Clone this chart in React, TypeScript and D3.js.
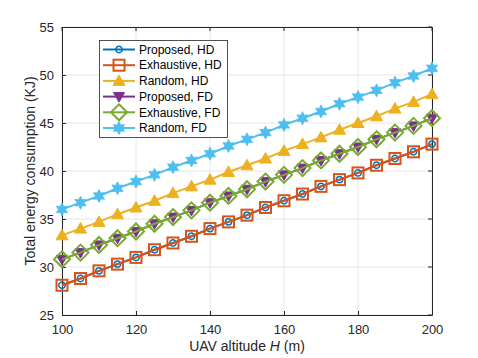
import * as d3 from "d3";
import React, { useEffect, useRef } from "react";

const altitudes = [100, 105, 110, 115, 120, 125, 130, 135, 140, 145, 150, 155, 160, 165, 170, 175, 180, 185, 190, 195, 200];
const proposedHD = [28.1, 28.8, 29.6, 30.3, 31.0, 31.8, 32.5, 33.2, 34.0, 34.7, 35.4, 36.2, 36.9, 37.6, 38.4, 39.1, 39.8, 40.6, 41.3, 42.0, 42.8];
const exhaustiveHD = [28.1, 28.8, 29.6, 30.3, 31.0, 31.8, 32.5, 33.2, 34.0, 34.7, 35.4, 36.2, 36.9, 37.6, 38.4, 39.1, 39.8, 40.6, 41.3, 42.0, 42.8];
const randomHD = [33.3, 34.0, 34.7, 35.5, 36.2, 36.9, 37.7, 38.4, 39.1, 39.9, 40.6, 41.3, 42.1, 42.8, 43.5, 44.3, 45.0, 45.7, 46.5, 47.2, 48.0];
const proposedFD = [30.8, 31.5, 32.3, 33.0, 33.7, 34.5, 35.2, 35.9, 36.7, 37.4, 38.1, 38.9, 39.6, 40.3, 41.1, 41.8, 42.5, 43.3, 44.0, 44.7, 45.5];
const exhaustiveFD = [30.8, 31.5, 32.3, 33.0, 33.7, 34.5, 35.2, 35.9, 36.7, 37.4, 38.1, 38.9, 39.6, 40.3, 41.1, 41.8, 42.5, 43.3, 44.0, 44.7, 45.5];
const randomFD = [36.0, 36.7, 37.4, 38.2, 38.9, 39.6, 40.4, 41.1, 41.8, 42.6, 43.3, 44.0, 44.8, 45.5, 46.2, 47.0, 47.7, 48.4, 49.2, 49.9, 50.7];
const xTicks = [100, 120, 140, 160, 180, 200];
const yTicks = [25, 30, 35, 40, 45, 50, 55];

const series = [
  { name: "Proposed, HD", values: proposedHD, color: "#0072BD", marker: "circle" },
  { name: "Exhaustive, HD", values: exhaustiveHD, color: "#D95319", marker: "square" },
  { name: "Random, HD", values: randomHD, color: "#EDB120", marker: "triangle" },
  { name: "Proposed, FD", values: proposedFD, color: "#7E2F8E", marker: "triangleDown" },
  { name: "Exhaustive, FD", values: exhaustiveFD, color: "#77AC30", marker: "diamond" },
  { name: "Random, FD", values: randomFD, color: "#4DBEEE", marker: "hexagram" },
];

function drawMarker(g, type, color) {
  if (type === "circle") {
    g.append("circle").attr("r", 3.2).attr("fill", "none").attr("stroke", color).attr("stroke-width", 1.5);
  } else if (type === "square") {
    g.append("rect").attr("x", -5.5).attr("y", -5.5).attr("width", 11).attr("height", 11)
      .attr("fill", "none").attr("stroke", color).attr("stroke-width", 2);
  } else if (type === "triangle") {
    g.append("path").attr("d", "M0,-6L6,4.5L-6,4.5Z").attr("fill", color).attr("stroke", color).attr("stroke-width", 1);
  } else if (type === "triangleDown") {
    g.append("path").attr("d", "M0,5.5L5.5,-4L-5.5,-4Z").attr("fill", color).attr("stroke", color).attr("stroke-width", 1);
  } else if (type === "diamond") {
    g.append("path").attr("d", "M0,-8L8,0L0,8L-8,0Z").attr("fill", "none").attr("stroke", color).attr("stroke-width", 2);
  } else if (type === "hexagram") {
    const pts = [];
    for (let i = 0; i < 12; i++) {
      const a = (Math.PI / 6) * i - Math.PI / 2;
      const r = i % 2 === 0 ? 6.5 : 3.5;
      pts.push([r * Math.cos(a), r * Math.sin(a)]);
    }
    g.append("path").attr("d", "M" + pts.map((p) => p.join(",")).join("L") + "Z")
      .attr("fill", color).attr("stroke", color).attr("stroke-width", 0.8);
  }
}

export default function App() {
  const svgRef = useRef(null);
  const width = 478;
  const height = 358;
  const margin = { top: 27, right: 46, bottom: 43, left: 62 };

  useEffect(() => {
    document.body.style.margin = "0";
    const svg = d3.select(svgRef.current);
    svg.selectAll("*").remove();
    const innerW = width - margin.left - margin.right;
    const innerH = height - margin.top - margin.bottom;

    const x = d3.scaleLinear().domain([100, 200]).range([0, innerW]);
    const y = d3.scaleLinear().domain([25, 55]).range([innerH, 0]);

    svg.append("rect").attr("width", width).attr("height", height).attr("fill", "#ffffff");
    const g = svg.append("g").attr("transform", `translate(${margin.left},${margin.top})`);

    // grid
    g.selectAll(".gx").data(xTicks).enter().append("line")
      .attr("x1", (d) => x(d)).attr("x2", (d) => x(d)).attr("y1", 0).attr("y2", innerH)
      .attr("stroke", "#e6e6e6").attr("stroke-width", 1);
    g.selectAll(".gy").data(yTicks).enter().append("line")
      .attr("y1", (d) => y(d)).attr("y2", (d) => y(d)).attr("x1", 0).attr("x2", innerW)
      .attr("stroke", "#e6e6e6").attr("stroke-width", 1);

    const font = "Liberation Sans, Arial, sans-serif";

    // axes (MATLAB box style, ticks inside)
    const xAxis = g.append("g").attr("transform", `translate(0,${innerH})`)
      .call(d3.axisBottom(x).tickValues(xTicks).tickSize(-4).tickPadding(10));
    const yAxis = g.append("g")
      .call(d3.axisLeft(y).tickValues(yTicks).tickSize(-4).tickPadding(8));
    [xAxis, yAxis].forEach((a) => {
      a.select(".domain").attr("stroke", "#262626");
      a.selectAll(".tick line").attr("stroke", "#262626");
      a.selectAll("text").attr("fill", "#262626").style("font-size", "13px").style("font-family", font);
    });
    g.append("line").attr("x1", 0).attr("x2", innerW).attr("y1", 0.5).attr("y2", 0.5).attr("stroke", "#262626");
    g.append("line").attr("x1", innerW + 0.5).attr("x2", innerW + 0.5).attr("y1", 0).attr("y2", innerH).attr("stroke", "#262626");
    // ticks on top/right
    xTicks.forEach((t) => g.append("line").attr("x1", x(t)).attr("x2", x(t)).attr("y1", 0).attr("y2", 4).attr("stroke", "#262626"));
    yTicks.forEach((t) => g.append("line").attr("x1", innerW).attr("x2", innerW - 4).attr("y1", y(t)).attr("y2", y(t)).attr("stroke", "#262626"));

    // series
    series.forEach((s) => {
      const line = d3.line().x((d, i) => x(altitudes[i])).y((d) => y(d));
      g.append("path").datum(s.values).attr("d", line).attr("fill", "none")
        .attr("stroke", s.color).attr("stroke-width", 2);
      s.values.forEach((v, i) => {
        const m = g.append("g").attr("transform", `translate(${x(altitudes[i])},${y(v)})`);
        drawMarker(m, s.marker, s.color);
      });
    });

    // axis labels
    const xl = svg.append("text").attr("x", margin.left + innerW / 2).attr("y", 351)
      .attr("text-anchor", "middle").attr("fill", "#262626")
      .style("font-size", "14px").style("font-family", font);
    xl.append("tspan").text("UAV altitude ");
    xl.append("tspan").attr("font-style", "italic").text("H");
    xl.append("tspan").text(" (m)");

    svg.append("text").attr("transform", `translate(35,${margin.top + innerH / 2}) rotate(-90)`)
      .attr("text-anchor", "middle").attr("fill", "#262626")
      .style("font-size", "14px").style("font-family", font)
      .text("Total energy consumption (KJ)");

    // legend
    const lg = svg.append("g").attr("transform", "translate(99,40)");
    lg.append("rect").attr("x", 0.5).attr("y", 0.5).attr("width", 128).attr("height", 97)
      .attr("fill", "#ffffff").attr("stroke", "#262626").attr("stroke-width", 0.8);
    series.forEach((s, i) => {
      const cy = 9.5 + i * 15.7;
      lg.append("line").attr("x1", 4).attr("x2", 36).attr("y1", cy).attr("y2", cy)
        .attr("stroke", s.color).attr("stroke-width", 2);
      const m = lg.append("g").attr("transform", `translate(20,${cy})`);
      drawMarker(m, s.marker, s.color);
      lg.append("text").attr("x", 40).attr("y", cy).attr("dy", "0.35em")
        .attr("fill", "#000").style("font-size", "12px").style("font-family", font).text(s.name);
    });
  }, []);

  return <svg width={width} height={height} ref={svgRef} style={{ display: "block" }}></svg>;
}
